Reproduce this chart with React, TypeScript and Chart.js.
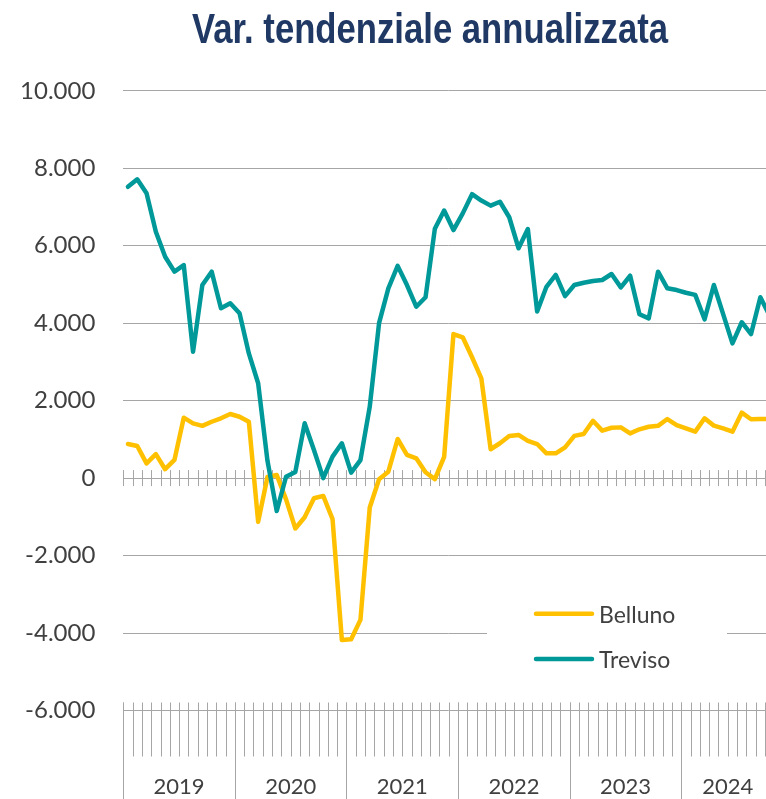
import React, { useEffect, useRef } from 'react';
import { Chart, registerables } from 'chart.js';

Chart.register(...registerables);

const chartTitle = 'Var. tendenziale annualizzata';
const years = ['2019', '2020', '2021', '2022', '2023', '2024'];
const monthsPerYear = [12, 12, 12, 12, 12, 10];
const monthNames = ['gen', 'feb', 'mar', 'apr', 'mag', 'giu', 'lug', 'ago', 'set', 'ott', 'nov', 'dic'];
const categories = years.flatMap((y, yi) => monthNames.slice(0, monthsPerYear[yi]).map((m) => `${m} ${y}`));

const belluno = [
  880, 830, 380, 620, 230, 470, 1560, 1415, 1350, 1455, 1545, 1655,
  1585, 1455, -1130, 30, 80, -550, -1300, -1010, -520, -460, -1060, -4180,
  -4160, -3660, -760, -30, 165, 1010, 600, 510, 150, -25, 550, 3720,
  3635, 3120, 2575, 745, 900, 1090, 1115, 960, 880, 640, 640, 795,
  1090, 1140, 1480, 1225, 1300, 1310, 1155, 1260, 1325, 1350, 1525, 1370,
  1285, 1200, 1545, 1355, 1285, 1200, 1690, 1520, 1525, 1525,
];

const treviso = [
  7520, 7715, 7355, 6360, 5715, 5330, 5500, 3265, 4985, 5330, 4385, 4515,
  4255, 3220, 2450, 450, -850, 35, 160, 1415, 725, 0, 555, 900,
  140, 465, 1845, 4000, 4900, 5480, 4985, 4425, 4670, 6440, 6910, 6405,
  6835, 7330, 7165, 7035, 7135, 6735, 5935, 6430, 4300, 4940, 5245, 4700,
  4985, 5045, 5090, 5115, 5270, 4925, 5225, 4230, 4125, 5330, 4900, 4855,
  4785, 4730, 4100, 4985, 4235, 3480, 4025, 3720, 4670, 4190,
];

const seriesNames = ['Belluno', 'Treviso'];
const seriesColors = ['#FFC000', '#009999'];
const yMin = -6000;
const yMax = 10000;
const yStep = 2000;

const fmt = (v: number) => {
  if (v === 0) return '0';
  const s = Math.abs(v).toString().replace(/\B(?=(\d{3})+(?!\d))/g, '.');
  return (v < 0 ? '-' : '') + s;
};

const FONT = 'Lato, "Open Sans", sans-serif';
const TEXT = '#404040';
const GRID = '#a6a6a6';

const decorPlugin = {
  id: 'decor',
  beforeDatasetsDraw(chart: any) {
    const { ctx } = chart;
    const xs = chart.scales.x;
    const ys = chart.scales.y;
    const n = chart.data.labels.length;
    const w = xs.getPixelForValue(1) - xs.getPixelForValue(0);
    const b = (k: number) => xs.getPixelForValue(0) - w / 2 + k * w;
    const y0 = ys.getPixelForValue(0);
    const yb = ys.getPixelForValue(yMin);
    ctx.save();
    ctx.strokeStyle = GRID;
    ctx.lineWidth = 1;
    ctx.beginPath();
    for (let k = 0; k <= n; k++) {
      const x = Math.round(b(k)) + 0.5;
      ctx.moveTo(x, y0 - 8);
      ctx.lineTo(x, y0 + 8);
      ctx.moveTo(x, yb - 8);
      ctx.lineTo(x, yb + 46);
    }
    let acc = 0;
    for (let yi = 0; yi <= years.length; yi++) {
      const x = Math.round(b(acc)) + 0.5;
      ctx.moveTo(x, yb - 8);
      ctx.lineTo(x, chart.height);
      if (yi < years.length) acc += monthsPerYear[yi];
    }
    ctx.stroke();
    ctx.fillStyle = TEXT;
    ctx.font = `22px ${FONT}`;
    ctx.textAlign = 'center';
    ctx.textBaseline = 'alphabetic';
    acc = 0;
    years.forEach((y, yi) => {
      const cx = b(acc + monthsPerYear[yi] / 2);
      ctx.fillText(y, cx, 794);
      acc += monthsPerYear[yi];
    });
    ctx.restore();
  },
  afterDraw(chart: any) {
    const { ctx } = chart;
    ctx.save();
    // title (condensed bold, like Arial Narrow)
    ctx.fillStyle = '#1F3864';
    ctx.font = `bold 42px "Liberation Sans", Arial, sans-serif`;
    ctx.textAlign = 'center';
    ctx.textBaseline = 'alphabetic';
    const tw = ctx.measureText(chartTitle).width;
    const sx = 476 / tw;
    ctx.save();
    ctx.translate(430, 42.7);
    ctx.scale(sx, 1);
    ctx.fillText(chartTitle, 0, 0);
    ctx.restore();
    // legend
    ctx.fillStyle = '#ffffff';
    ctx.fillRect(487, 590, 240, 90);
    chart.data.datasets.forEach((ds: any, i: number) => {
      const ly = 613.7 + i * 45.3;
      ctx.strokeStyle = ds.borderColor;
      ctx.lineWidth = 4.5;
      ctx.lineCap = 'round';
      ctx.beginPath();
      ctx.moveTo(536, ly);
      ctx.lineTo(592, ly);
      ctx.stroke();
      ctx.fillStyle = TEXT;
      ctx.font = `23px ${FONT}`;
      ctx.textAlign = 'left';
      ctx.fillText(ds.label, 599, ly + 8.8);
    });
    ctx.restore();
  },
};

export default function App() {
  const ref = useRef<HTMLCanvasElement | null>(null);
  useEffect(() => {
    if (!ref.current) return;
    const chart = new Chart(ref.current, {
      type: 'line',
      data: {
        labels: categories,
        datasets: [
          {
            label: seriesNames[0],
            data: belluno,
            borderColor: seriesColors[0],
            backgroundColor: seriesColors[0],
            borderWidth: 4.5,
            pointRadius: 0,
            tension: 0,
            borderJoinStyle: 'round',
            borderCapStyle: 'round',
            order: 1,
          },
          {
            label: seriesNames[1],
            data: treviso,
            borderColor: seriesColors[1],
            backgroundColor: seriesColors[1],
            borderWidth: 4.5,
            pointRadius: 0,
            tension: 0,
            borderJoinStyle: 'round',
            borderCapStyle: 'round',
            order: 0,
          },
        ],
      },
      options: {
        responsive: false,
        animation: false,
        layout: { padding: { top: 90.8, bottom: 88.5, left: 0, right: 25.7 } },
        plugins: { legend: { display: false }, title: { display: false }, tooltip: { enabled: false } },
        scales: {
          x: {
            type: 'category',
            display: false,
            offset: true,
            grid: { display: false },
          },
          y: {
            min: yMin,
            max: yMax,
            afterFit: (scale: any) => {
              scale.width = 123.3;
            },
            ticks: {
              stepSize: yStep,
              padding: 28,
              color: TEXT,
              font: { family: FONT, size: 24 },
              callback: (v: any) => fmt(Number(v)),
            },
            grid: { color: GRID, lineWidth: 1, drawTicks: false },
            border: { display: false },
          },
        },
      },
      plugins: [decorPlugin],
    });
    return () => chart.destroy();
  }, []);
  return (
    <div style={{ position: 'absolute', left: 0, top: 0, width: 766, height: 799, overflow: 'hidden', background: '#fff' }}>
      <canvas ref={ref} width={800} height={799} style={{ display: 'block' }} />
    </div>
  );
}
